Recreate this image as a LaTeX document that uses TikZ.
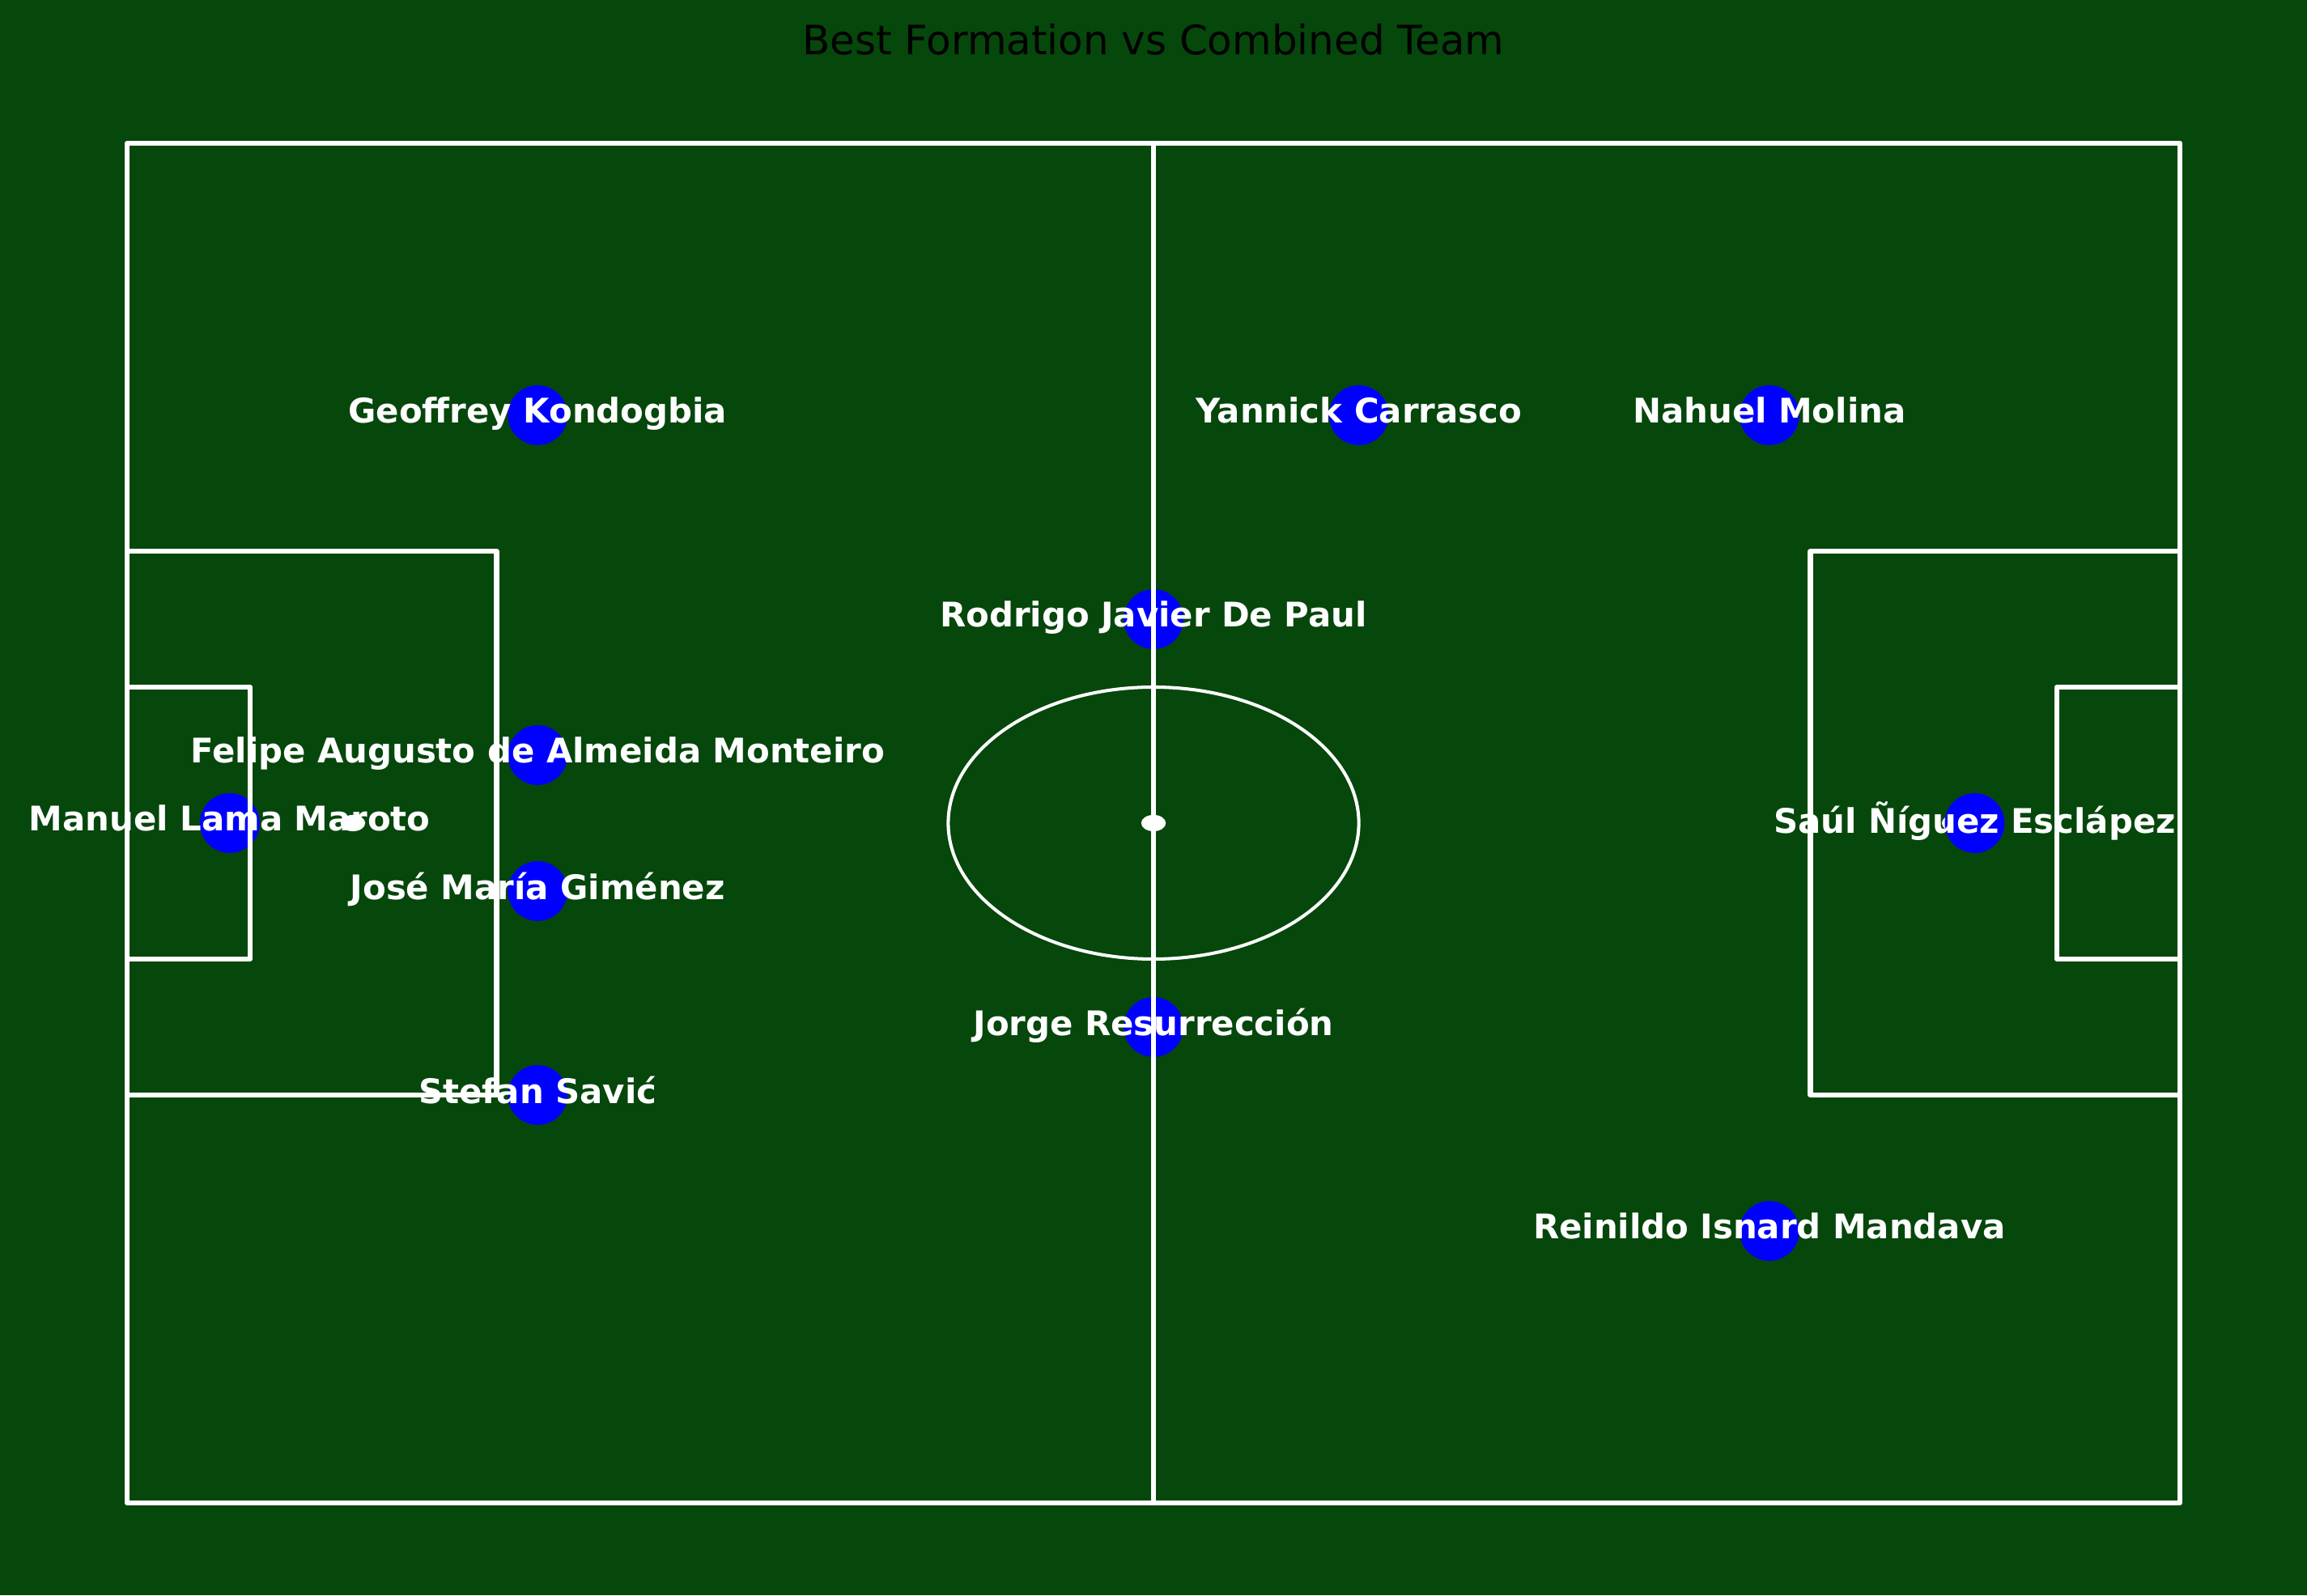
\documentclass[tikz,border=0pt]{standalone}
\usepackage{fontspec}
\setmainfont{DejaVu Sans}
\definecolor{forest}{HTML}{06470C}
\definecolor{pblue}{HTML}{0000FF}
\tikzset{
  pitchline/.style={draw=white, line width=1.75pt, line join=round, line cap=round},
  thinline/.style={draw=white, line width=1.15pt},
  player/.style={circle, fill=pblue, minimum size=21pt, inner sep=0pt},
  pname/.style={text=white, font=\bfseries\fontsize{11.9}{14}\selectfont, inner sep=0pt, text depth=3.8pt, anchor=center},
  spot/.style={fill=white}
}
\begin{document}
\begin{tikzpicture}
\fill[forest] (0,0) rectangle (28.5,19.71);
\useasboundingbox (0,0) rectangle (28.5,19.71);
\node[anchor=base, text=black, font=\fontsize{14.2}{17}\selectfont, inner sep=0pt] (title) at (14.25,19.03) {Best Formation vs Combined Team};
\begin{scope}[shift={(1.57,17.94)}, x=0.25360cm, y=-0.1680cm]
  % spots
  \fill[spot] (50,50) ellipse [x radius=0.6, y radius=0.6];
  \fill[spot] (11,50) ellipse [x radius=0.6, y radius=0.6];
  \fill[spot] (89,50) ellipse [x radius=0.6, y radius=0.6];
  % players (markers)
  \node[player] (kondogbia) at (20,20) {};
  \node[player] (carrasco) at (60,20) {};
  \node[player] (molina) at (80,20) {};
  \node[player] (depaul) at (50,35) {};
  \node[player] (felipe) at (20,45) {};
  \node[player] (lama) at (5,50) {};
  \node[player] (saul) at (90,50) {};
  \node[player] (gimenez) at (20,55) {};
  \node[player] (jorge) at (50,65) {};
  \node[player] (savic) at (20,70) {};
  \node[player] (reinildo) at (80,80) {};
  % pitch
  \draw[pitchline] (0,0) rectangle (100,100);
  \draw[pitchline] (50,0) -- (50,100);
  \draw[pitchline] (0,30) -- (18,30) -- (18,70) -- (0,70);
  \draw[pitchline] (100,30) -- (82,30) -- (82,70) -- (100,70);
  \draw[pitchline] (0,40) -- (6,40) -- (6,60) -- (0,60);
  \draw[pitchline] (100,40) -- (94,40) -- (94,60) -- (100,60);
  \draw[thinline] (50,50) ellipse [x radius=10, y radius=10];
  % names
  \node[pname] at (kondogbia) {Geoffrey Kondogbia};
  \node[pname] at (carrasco) {Yannick Carrasco};
  \node[pname] at (molina) {Nahuel Molina};
  \node[pname] at (depaul) {Rodrigo Javier De Paul};
  \node[pname] at (felipe) {Felipe Augusto de Almeida Monteiro};
  \node[pname] at (lama) {Manuel Lama Maroto};
  \node[pname] at (saul) {Saúl Ñíguez Esclápez};
  \node[pname] at (gimenez) {José María Giménez};
  \node[pname] at (jorge) {Jorge Resurrección};
  \node[pname] at (savic) {Stefan Savić};
  \node[pname] at (reinildo) {Reinildo Isnard Mandava};
\end{scope}
\end{tikzpicture}
\end{document}
